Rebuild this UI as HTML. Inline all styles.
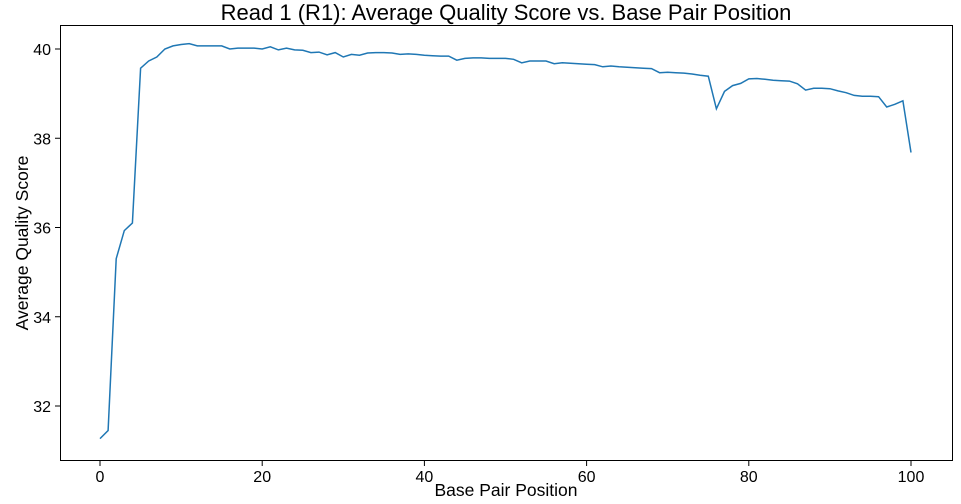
<!DOCTYPE html>
<html><head><meta charset="utf-8"><style>
body{margin:0;background:#fff;}
svg{display:block;font-family:"Liberation Sans","DejaVu Sans",sans-serif;}
</style></head><body>
<svg id="chart" width="961" height="504">
<rect x="60.5" y="25.5" width="892" height="435" fill="none" stroke="#000" stroke-width="1"/>
<text x="506" y="20" text-anchor="middle" font-size="22">Read 1 (R1): Average Quality Score vs. Base Pair Position</text>
<text x="506" y="496" text-anchor="middle" font-size="17.5">Base Pair Position</text>
<text x="28" y="243" text-anchor="middle" font-size="17.5" transform="rotate(-90 28 243)">Average Quality Score</text>
<g id="ticks"></g>
<path id="line" fill="none" stroke="#1f77b4" stroke-width="1.5"/>
</svg>
<script>
const xTicks=[0,20,40,60,80,100];
const yTicks=[32,34,36,38,40];
const positions=[];for(let i=0;i<=100;i++)positions.push(i);
const scores=[31.27,31.45,35.3,35.93,36.1,39.57,39.73,39.82,40.0,40.07,40.1,40.12,40.07,40.07,40.07,40.07,40.0,40.02,40.02,40.02,40.0,40.05,39.98,40.02,39.98,39.97,39.92,39.93,39.87,39.92,39.82,39.88,39.86,39.91,39.92,39.92,39.91,39.88,39.89,39.88,39.86,39.85,39.84,39.84,39.75,39.79,39.8,39.8,39.79,39.79,39.79,39.77,39.69,39.73,39.73,39.73,39.67,39.69,39.68,39.67,39.66,39.65,39.6,39.62,39.6,39.59,39.58,39.57,39.56,39.47,39.48,39.47,39.46,39.44,39.41,39.39,38.66,39.05,39.18,39.23,39.33,39.34,39.32,39.3,39.29,39.28,39.22,39.08,39.12,39.12,39.11,39.06,39.02,38.96,38.94,38.94,38.93,38.7,38.76,38.84,37.68];
const xs=v=>100+(v-0)*(911-100)/100;
const ys=v=>49+(40-v)*(406-49)/8;
const NS='http://www.w3.org/2000/svg';
const g=document.getElementById('ticks');
xTicks.forEach(t=>{
 const l=document.createElementNS(NS,'line');
 
 
 l.setAttribute('x1',xs(t));l.setAttribute('x2',xs(t));l.setAttribute('y1',461);l.setAttribute('y2',466);l.setAttribute('stroke','#000');g.appendChild(l);
 const tx=document.createElementNS(NS,'text');
 
 
 tx.setAttribute('x',xs(t));tx.setAttribute('y',482);tx.setAttribute('text-anchor','middle');tx.setAttribute('font-size','16');tx.textContent=t;g.appendChild(tx);
});
yTicks.forEach(t=>{
 const l=document.createElementNS(NS,'line');
 
 
 l.setAttribute('x1',55);l.setAttribute('x2',60);l.setAttribute('y1',ys(t));l.setAttribute('y2',ys(t));l.setAttribute('stroke','#000');g.appendChild(l);
 const tx=document.createElementNS(NS,'text');
 
 
 tx.setAttribute('x',51);tx.setAttribute('y',ys(t)+6);tx.setAttribute('text-anchor','end');tx.setAttribute('font-size','16');tx.textContent=t;g.appendChild(tx);
});
document.getElementById('line').setAttribute('d',scores.map((v,i)=>(i?'L':'M')+xs(positions[i]).toFixed(1)+','+ys(v).toFixed(1)).join(''));
</script>
</body></html>
